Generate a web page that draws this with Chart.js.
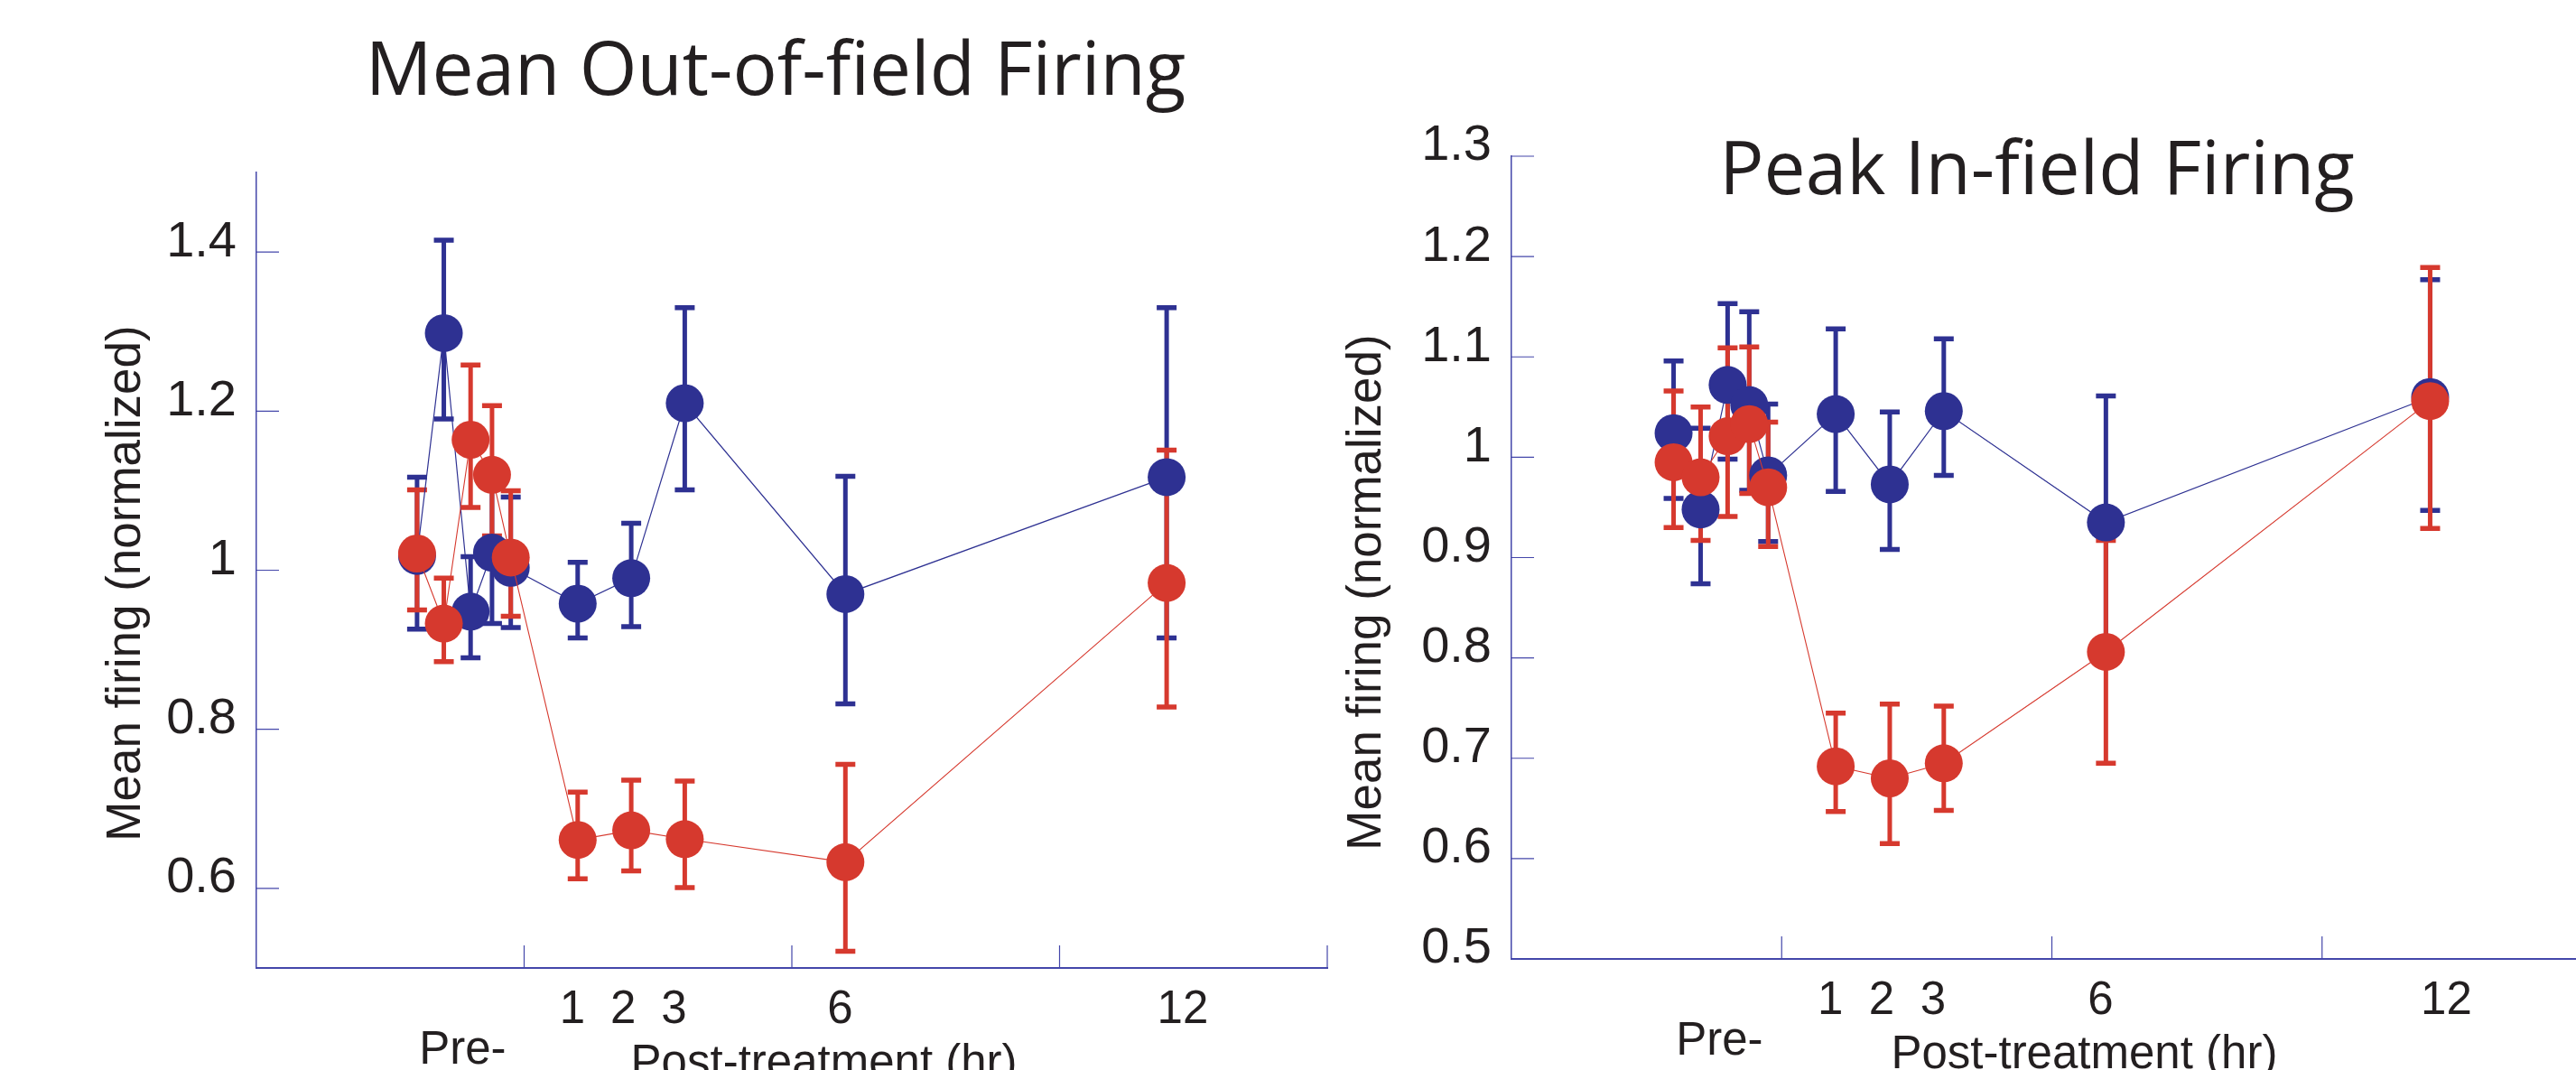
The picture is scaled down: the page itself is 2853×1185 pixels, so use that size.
<!DOCTYPE html>
<html>
<head>
<meta charset="utf-8">
<script src="https://cdn.jsdelivr.net/npm/chart.js@4.4.1/dist/chart.umd.min.js"></script>
<style>
  html, body { margin: 0; padding: 0; background: #fff; }
  body { width: 2853px; height: 1185px; overflow: hidden; position: relative; }
  canvas { position: absolute; top: 0; }
  #outChart { left: 0; }
  #peakChart { left: 1400px; }
</style>
</head>
<body>
<canvas id="outChart" width="1560" height="1185"></canvas>
<canvas id="peakChart" width="1500" height="1185"></canvas>
<script>
// x positions of the sessions (5 pre-treatment, then 1, 2, 3, 6, 12 hr)
const xPos = [0.6, 0.7, 0.8, 0.88, 0.95, 1.2, 1.4, 1.6, 2.2, 3.4];
const xTickPos = [1.18, 1.37, 1.56, 2.18, 3.46];
const xTickLabels = ['1', '2', '3', '6', '12'];
const xTickMarks = [1, 2, 3, 4];

// Mean out-of-field firing
const outBlue   = [1.018, 1.298, 0.948, 1.022, 1.003, 0.958, 0.990, 1.210, 0.970, 1.117];
const outBlueHi = [1.117, 1.415, 1.017, 1.110, 1.092, 1.010, 1.059, 1.330, 1.118, 1.330];
const outBlueLo = [0.926, 1.190, 0.890, 0.933, 0.928, 0.915, 0.929, 1.101, 0.832, 0.915];
const outRed    = [1.021, 0.933, 1.164, 1.120, 1.016, 0.661, 0.673, 0.662, 0.633, 0.984];
const outRedHi  = [1.101, 0.990, 1.258, 1.207, 1.100, 0.721, 0.736, 0.735, 0.756, 1.151];
const outRedLo  = [0.950, 0.885, 1.079, 1.043, 0.942, 0.612, 0.622, 0.601, 0.521, 0.828];
const outYTicks  = [0.6, 0.8, 1, 1.2, 1.4];
const outYLabels = ['0.6', '0.8', '1', '1.2', '1.4'];

// Peak in-field firing
const peakBlue   = [1.024, 0.948, 1.072, 1.052, 0.982, 1.043, 0.973, 1.046, 0.935, 1.060];
const peakBlueHi = [1.096, 1.029, 1.153, 1.145, 1.053, 1.128, 1.045, 1.118, 1.061, 1.177];
const peakBlueLo = [0.959, 0.874, 0.998, 0.967, 0.916, 0.966, 0.908, 0.982, 0.810, 0.947];
const peakRed    = [0.995, 0.980, 1.021, 1.033, 0.970, 0.692, 0.680, 0.695, 0.806, 1.056];
const peakRedHi  = [1.066, 1.050, 1.109, 1.110, 1.035, 0.745, 0.754, 0.752, 0.917, 1.189];
const peakRedLo  = [0.930, 0.917, 0.941, 0.964, 0.911, 0.647, 0.615, 0.648, 0.695, 0.929];
const peakYTicks  = [0.5, 0.6, 0.7, 0.8, 0.9, 1, 1.1, 1.2, 1.3];
const peakYLabels = ['0.5', '0.6', '0.7', '0.8', '0.9', '1', '1.1', '1.2', '1.3'];

const blue = '#2e3192';
const red = '#d6392e';
const axisColor = '#4447aa';
const ink = '#231f20';

Chart.defaults.font.family = '"Liberation Sans", Arial, sans-serif';
Chart.defaults.color = ink;

function makeChart(id, o) {
  const decor = {
    id: 'decor',
    beforeDatasetsDraw(chart) {
      // error bars
      const { ctx, scales: { x, y } } = chart;
      ctx.save();
      chart.data.datasets.forEach(ds => {
        ctx.strokeStyle = ds.borderColor;
        ds.data.forEach((p, j) => {
          const px = x.getPixelForValue(p.x);
          const hi = y.getPixelForValue(ds.errHi[j]);
          const lo = y.getPixelForValue(ds.errLo[j]);
          ctx.lineWidth = 5;
          ctx.beginPath();
          ctx.moveTo(px, hi);
          ctx.lineTo(px, lo);
          ctx.stroke();
          ctx.lineWidth = 5.5;
          ctx.beginPath();
          ctx.moveTo(px - 11, hi); ctx.lineTo(px + 11, hi);
          ctx.moveTo(px - 11, lo); ctx.lineTo(px + 11, lo);
          ctx.stroke();
        });
      });
      ctx.restore();
    },
    afterDraw(chart) {
      const { ctx, chartArea: area, scales: { x, y } } = chart;
      ctx.save();
      // inward tick marks
      ctx.strokeStyle = axisColor;
      ctx.lineWidth = 1.2;
      ctx.beginPath();
      o.yMarks.forEach(v => {
        const py = y.getPixelForValue(v);
        ctx.moveTo(area.left, py);
        ctx.lineTo(area.left + 25, py);
      });
      xTickMarks.forEach(v => {
        const px = x.getPixelForValue(v);
        ctx.moveTo(px, area.bottom);
        ctx.lineTo(px, area.bottom - 25);
      });
      ctx.stroke();

      ctx.fillStyle = ink;
      ctx.textAlign = 'center';
      ctx.textBaseline = 'alphabetic';
      ctx.font = '82px "Open Sans", sans-serif';
      ctx.fillText(o.title, o.titleX, o.titleY);

      ctx.font = '51px "Liberation Sans", Arial, sans-serif';
      ctx.fillText('Pre-', x.getPixelForValue(0.77), area.bottom + 106);
      ctx.fillText('Post-treatment (hr)', x.getPixelForValue(2.12), area.bottom + 121);

      ctx.translate(o.yTitleX, o.yTitleY);
      ctx.rotate(-Math.PI / 2);
      ctx.font = '53px "Liberation Sans", Arial, sans-serif';
      ctx.fillText('Mean firing (normalized)', 0, 0);
      ctx.restore();
    }
  };

  return new Chart(document.getElementById(id), {
    type: 'line',
    data: {
      datasets: [
        {
          label: 'Blue group',
          data: xPos.map((v, i) => ({ x: v, y: o.blue[i] })),
          errHi: o.blueHi, errLo: o.blueLo,
          borderColor: blue, backgroundColor: blue, pointBackgroundColor: blue,
          borderWidth: 1.2, pointRadius: 21, pointHoverRadius: 21, pointBorderWidth: 0,
          order: 2
        },
        {
          label: 'Red group',
          data: xPos.map((v, i) => ({ x: v, y: o.red[i] })),
          errHi: o.redHi, errLo: o.redLo,
          borderColor: red, backgroundColor: red, pointBackgroundColor: red,
          borderWidth: 1.1, pointRadius: 21, pointHoverRadius: 21, pointBorderWidth: 0,
          order: 1
        }
      ]
    },
    options: {
      responsive: false,
      animation: false,
      devicePixelRatio: 1,
      events: [],
      clip: false,
      layout: { padding: { top: o.padTop, right: o.padRight, left: 0, bottom: 0 } },
      plugins: { legend: { display: false }, tooltip: { enabled: false } },
      scales: {
        x: {
          type: 'linear', min: 0, max: 4,
          grid: { display: false, drawTicks: false },
          border: { color: axisColor, width: 2 },
          afterBuildTicks: s => { s.ticks = xTickPos.map(v => ({ value: v })); },
          afterFit: s => { s.height = o.xHeight; },
          ticks: {
            autoSkip: false, maxRotation: 0, padding: 16,
            font: { size: 51 },
            callback: (v, i) => xTickLabels[i]
          }
        },
        y: {
          min: o.yMin, max: o.yMax,
          grid: { display: false, drawTicks: false },
          border: { color: axisColor, width: 1.5 },
          afterBuildTicks: s => { s.ticks = o.yTicks.map(v => ({ value: v })); },
          afterFit: s => { s.width = o.yWidth; },
          ticks: {
            padding: 22, labelOffset: -11,
            font: { size: 56 },
            callback: (v, i) => o.yLabels[i]
          }
        }
      }
    },
    plugins: [decor]
  });
}

makeChart('outChart', {
  blue: outBlue, blueHi: outBlueHi, blueLo: outBlueLo,
  red: outRed, redHi: outRedHi, redLo: outRedLo,
  yMin: 0.5, yMax: 1.5, yTicks: outYTicks, yLabels: outYLabels, yMarks: outYTicks,
  title: 'Mean Out-of-field Firing', titleX: 859, titleY: 105,
  yTitleX: 155, yTitleY: 646,
  padTop: 191, padRight: 90, yWidth: 284, xHeight: 113
});

makeChart('peakChart', {
  blue: peakBlue, blueHi: peakBlueHi, blueLo: peakBlueLo,
  red: peakRed, redHi: peakRedHi, redLo: peakRedLo,
  yMin: 0.5, yMax: 1.3, yTicks: peakYTicks, yLabels: peakYLabels, yMarks: peakYTicks.slice(1),
  title: 'Peak In-field Firing', titleX: 856, titleY: 215,
  yTitleX: 129, yTitleY: 656,
  padTop: 173, padRight: 29, yWidth: 274, xHeight: 123
});
</script>
</body>
</html>
